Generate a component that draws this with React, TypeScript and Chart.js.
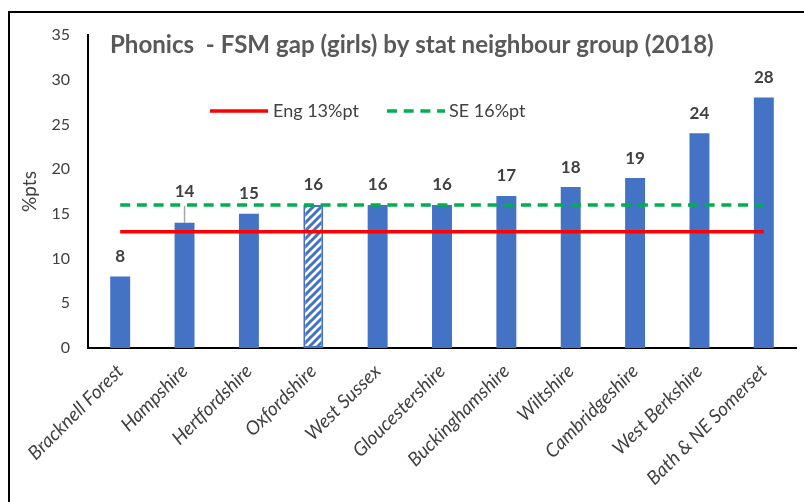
import React, { useEffect, useRef } from 'react';
import { Chart, registerables } from 'chart.js';

Chart.register(...registerables);

const categories = [
  'Bracknell Forest',
  'Hampshire',
  'Hertfordshire',
  'Oxfordshire',
  'West Sussex',
  'Gloucestershire',
  'Buckinghamshire',
  'Wiltshire',
  'Cambridgeshire',
  'West Berkshire',
  'Bath & NE Somerset',
];
const gapValues = [8, 14, 15, 16, 16, 16, 17, 18, 19, 24, 28];
const engValues = [13, 13, 13, 13, 13, 13, 13, 13, 13, 13, 13];
const seValues = [16, 16, 16, 16, 16, 16, 16, 16, 16, 16, 16];
const engLabel = 'Eng 13%pt';
const seLabel = 'SE 16%pt';
const chartTitle = 'Phonics  - FSM gap (girls) by stat neighbour group (2018)';
const yAxisTitle = '%pts';
const yMin = 0;
const yMax = 35;
const yStep = 5;
const highlightIndex = 3; // Oxfordshire (hatched)
const liftedLabelIndex = 1; // Hampshire label raised with leader line

const BLUE = '#4472C4';
const RED = '#FF0000';
const GREEN = '#00B050';
const DARK = '#404040';
const TITLE_GREY = '#595959';
const FONT = 'Lato, "Open Sans", sans-serif';
const TITLE_WIDTH = 604;

function makeHatch(): CanvasPattern | string {
  const c = document.createElement('canvas');
  c.width = 8;
  c.height = 8;
  const g = c.getContext('2d');
  if (!g) return BLUE;
  g.fillStyle = '#ffffff';
  g.fillRect(0, 0, 8, 8);
  g.strokeStyle = BLUE;
  g.lineWidth = 3;
  g.beginPath();
  g.moveTo(-2, 10);
  g.lineTo(10, -2);
  g.moveTo(-2, 2);
  g.lineTo(2, -2);
  g.moveTo(6, 10);
  g.lineTo(10, 6);
  g.stroke();
  return g.createPattern(c, 'repeat') || BLUE;
}

const framePlugin = {
  id: 'frame',
  afterDraw(chart: any) {
    const ctx = chart.ctx;
    ctx.save();
    ctx.strokeStyle = '#000';
    ctx.lineWidth = 2;
    ctx.beginPath();
    ctx.moveTo(9, 502);
    ctx.lineTo(9, 12);
    ctx.lineTo(804, 12);
    ctx.stroke();
    ctx.restore();
  },
};

const titlePlugin = {
  id: 'customTitle',
  afterDraw(chart: any) {
    const ctx = chart.ctx;
    const a = chart.chartArea;
    ctx.save();
    ctx.font = `bold 20px ${FONT}`;
    const w = ctx.measureText(chartTitle).width || TITLE_WIDTH;
    const size = Math.min(26, Math.max(16, (20 * TITLE_WIDTH) / w));
    ctx.font = `bold ${size}px ${FONT}`;
    ctx.fillStyle = TITLE_GREY;
    ctx.textAlign = 'left';
    ctx.textBaseline = 'alphabetic';
    ctx.fillText(chartTitle, a.left + 22, 53);
    ctx.restore();
  },
};

const legendPlugin = {
  id: 'customLegend',
  afterDatasetsDraw(chart: any) {
    const ctx = chart.ctx;
    const a = chart.chartArea;
    const y = 111;
    ctx.save();
    ctx.lineWidth = 3.5;
    ctx.strokeStyle = RED;
    ctx.beginPath();
    ctx.moveTo(a.left + 122, y);
    ctx.lineTo(a.left + 180, y);
    ctx.stroke();
    ctx.strokeStyle = GREEN;
    ctx.setLineDash([10, 6.7]);
    ctx.beginPath();
    ctx.moveTo(a.left + 299, y);
    ctx.lineTo(a.left + 357, y);
    ctx.stroke();
    ctx.setLineDash([]);
    ctx.font = `18px ${FONT}`;
    ctx.fillStyle = DARK;
    ctx.textBaseline = 'middle';
    ctx.textAlign = 'left';
    ctx.fillText(engLabel, a.left + 185, y);
    ctx.fillText(seLabel, a.left + 361, y);
    ctx.restore();
  },
};

const dataLabelPlugin = {
  id: 'dataLabels',
  afterDatasetsDraw(chart: any) {
    const ctx = chart.ctx;
    const meta = chart.getDatasetMeta(0);
    ctx.save();
    ctx.font = `bold 17px ${FONT}`;
    ctx.fillStyle = DARK;
    ctx.textAlign = 'center';
    ctx.textBaseline = 'middle';
    meta.data.forEach((el: any, i: number) => {
      let ly = el.y - 20;
      if (i === liftedLabelIndex) {
        ly = el.y - 31;
        ctx.strokeStyle = '#A6A6A6';
        ctx.lineWidth = 1.5;
        ctx.beginPath();
        ctx.moveTo(el.x, el.y);
        ctx.lineTo(el.x, el.y - 17);
        ctx.stroke();
      }
      ctx.fillText(String(gapValues[i]), el.x, ly);
    });
    ctx.restore();
  },
};

export default function App() {
  const ref = useRef<HTMLCanvasElement>(null);

  useEffect(() => {
    const canvas = ref.current;
    if (!canvas) return;
    const hatch = makeHatch();
    const chart = new Chart(canvas, {
      type: 'bar',
      data: {
        labels: categories,
        datasets: [
          {
            type: 'bar',
            label: 'FSM gap',
            data: gapValues,
            backgroundColor: gapValues.map((_, i) => (i === highlightIndex ? hatch : BLUE)),
            borderColor: BLUE,
            borderWidth: gapValues.map((_, i) => (i === highlightIndex ? 2 : 0)),
            borderSkipped: false,
            barPercentage: 0.31,
            categoryPercentage: 1,
            order: 2,
          } as any,
          {
            type: 'line',
            label: engLabel,
            data: engValues,
            borderColor: RED,
            borderWidth: 3.5,
            pointRadius: 0,
            fill: false,
            order: 1,
          } as any,
          {
            type: 'line',
            label: seLabel,
            data: seValues,
            borderColor: GREEN,
            borderWidth: 3.5,
            borderDash: [10, 6.7],
            pointRadius: 0,
            fill: false,
            order: 0,
          } as any,
        ],
      },
      options: {
        responsive: true,
        maintainAspectRatio: false,
        animation: false,
        layout: { padding: { top: 35, right: 8, left: 0, bottom: 0 } },
        plugins: {
          legend: { display: false },
          tooltip: { enabled: false },
          title: { display: false },
        },
        scales: {
          x: {
            grid: { display: false, drawTicks: false },
            border: { display: true, color: '#000', width: 2 },
            ticks: {
              autoSkip: false,
              minRotation: 45,
              maxRotation: 45,
              padding: 12,
              color: DARK,
              font: { family: FONT, size: 19, style: 'italic' },
            },
            afterFit(scale: any) {
              scale.height = 154;
            },
          },
          y: {
            min: yMin,
            max: yMax,
            grid: { display: false, drawTicks: false },
            border: { display: true, color: '#000', width: 2 },
            ticks: {
              stepSize: yStep,
              padding: 18,
              color: DARK,
              font: { family: FONT, size: 16 },
            },
            title: {
              display: true,
              text: yAxisTitle,
              color: DARK,
              font: { family: FONT, size: 19 },
              padding: { top: 18, bottom: 0 },
            },
            afterFit(scale: any) {
              scale.width = 88;
            },
          },
        },
      },
      plugins: [framePlugin, titlePlugin, legendPlugin, dataLabelPlugin],
    });
    return () => chart.destroy();
  }, []);

  return (
    <div style={{ position: 'absolute', left: 0, top: 0, width: 804, height: 502, background: '#fff' }}>
      <canvas ref={ref} />
    </div>
  );
}
